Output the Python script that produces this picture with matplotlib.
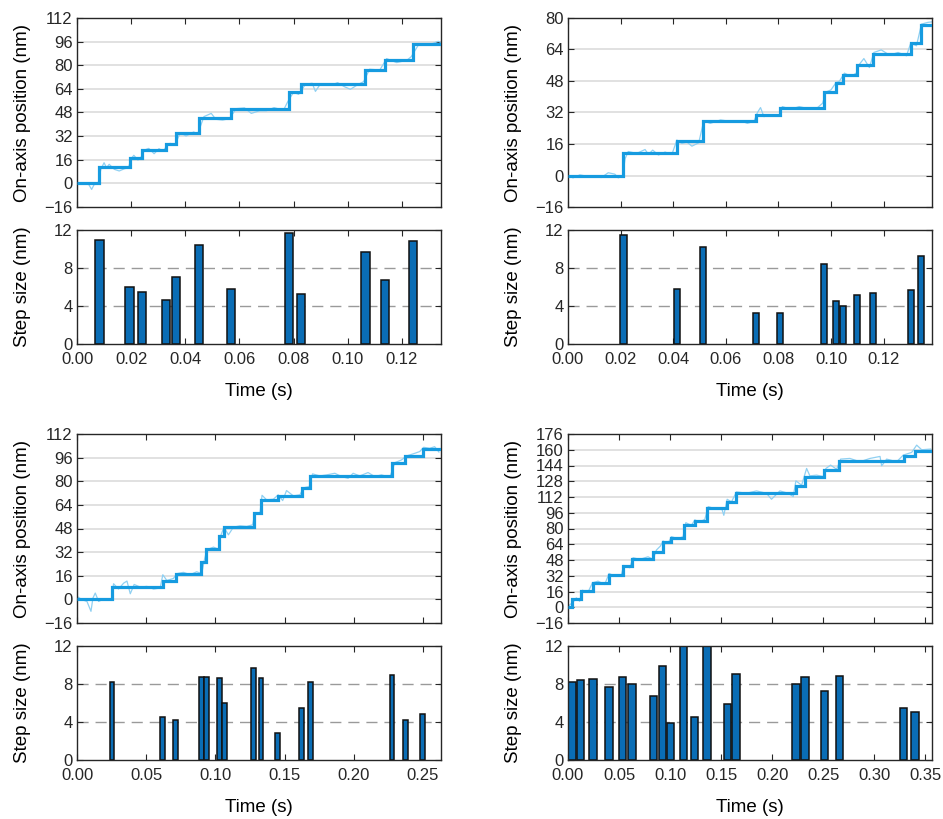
import numpy as np
import matplotlib.pyplot as plt

plt.rcParams['font.family'] = ['Liberation Sans', 'DejaVu Sans']
plt.rcParams['font.size'] = 12

# ---- data: step times (s) and step sizes (nm) ----
p1_t = [0.0083, 0.0194, 0.0239, 0.0330, 0.0366, 0.0450, 0.0570, 0.0783,
        0.0828, 0.1066, 0.1139, 0.1241]
p1_s = [10.9, 6.0, 5.45, 4.6, 7.1, 10.4, 5.8, 11.65, 5.25, 9.7, 6.7, 10.8]

p2_t = [0.0211, 0.0413, 0.0513, 0.0716, 0.0806, 0.0975, 0.1020, 0.1047,
        0.1100, 0.1158, 0.1304, 0.1341]
p2_s = [11.5, 5.8, 10.2, 3.25, 3.3, 8.4, 4.55, 4.0, 5.15, 5.35, 5.7, 9.25]

p3_t = [0.0252, 0.0618, 0.0712, 0.0899, 0.0935, 0.1029, 0.1065, 0.1276,
        0.1329, 0.1450, 0.1623, 0.1685, 0.2276, 0.2373, 0.2498]
p3_s = [8.2, 4.5, 4.2, 8.7, 8.7, 8.6, 6.0, 9.65, 8.6, 2.85, 5.5, 8.2, 8.9,
        4.2, 4.8]

p4_t = [0.0039, 0.0124, 0.0245, 0.0400, 0.0536, 0.0627, 0.0837, 0.0928,
        0.1007, 0.1134, 0.1239, 0.1360, 0.1559, 0.1644, 0.2232, 0.2320,
        0.2510, 0.2657, 0.3288, 0.3400]
p4_s = [8.2, 8.4, 8.5, 7.7, 8.7, 8.0, 6.7, 9.9, 3.9, 13.5, 4.5, 12.6, 5.9,
        9.1, 8.0, 8.7, 7.3, 8.8, 5.45, 5.05]

# ---- raw on-axis position traces (s, nm) ----
p1_raw_t = [0.0000, 0.0025, 0.0044, 0.0054, 0.0063, 0.0078, 0.0088, 0.0100,
            0.0109, 0.0119, 0.0138, 0.0156, 0.0175, 0.0190, 0.0200, 0.0210,
            0.0225, 0.0235, 0.0250, 0.0265, 0.0285, 0.0303, 0.0319, 0.0329,
            0.0344, 0.0363, 0.0381, 0.0403, 0.0431, 0.0446, 0.0469, 0.0496,
            0.0513, 0.0538, 0.0563, 0.0588, 0.0619, 0.0644, 0.0675, 0.0700,
            0.0728, 0.0763, 0.0778, 0.0800, 0.0819, 0.0844, 0.0869, 0.0881,
            0.0900, 0.0938, 0.0963, 0.0988, 0.1010, 0.1038, 0.1059, 0.1081,
            0.1119, 0.1144, 0.1181, 0.1219, 0.1235, 0.1263, 0.1300, 0.1335,
            0.1363]
p1_raw_y = [0.5, 0.2, -0.9, -4.1, -0.9, -0.2, 9.5, 14.0, 10.6, 12.9, 9.5,
            8.4, 9.9, 10.6, 16.7, 19.0, 15.8, 17.2, 22.6, 23.7, 20.1, 23.5,
            21.7, 24.8, 27.1, 26.2, 34.3, 32.1, 34.8, 33.4, 45.2, 47.4, 43.4,
            42.9, 43.8, 50.6, 51.1, 47.4, 49.2, 49.2, 51.3, 49.5, 55.1, 61.7,
            60.3, 67.1, 67.8, 62.3, 67.5, 66.4, 68.2, 65.5, 63.7, 66.9, 68.9,
            77.3, 76.8, 84.5, 81.8, 83.4, 85.8, 94.2, 93.7, 96.2, 94.0]

p2_raw_t = [0.0000, 0.0019, 0.0045, 0.0070, 0.0096, 0.0127, 0.0153, 0.0178,
            0.0191, 0.0208, 0.0217, 0.0229, 0.0261, 0.0293, 0.0306, 0.0322,
            0.0344, 0.0369, 0.0395, 0.0414, 0.0433, 0.0452, 0.0471, 0.0497,
            0.0516, 0.0541, 0.0580, 0.0618, 0.0656, 0.0682, 0.0707, 0.0720,
            0.0732, 0.0745, 0.0771, 0.0803, 0.0815, 0.0847, 0.0879, 0.0911,
            0.0949, 0.0968, 0.0981, 0.1000, 0.1019, 0.1032, 0.1051, 0.1076,
            0.1096, 0.1108, 0.1125, 0.1146, 0.1163, 0.1191, 0.1223, 0.1255,
            0.1287, 0.1303, 0.1325, 0.1344, 0.1369, 0.1389]
p2_raw_y = [0.0, -1.2, 0.3, -0.3, -0.7, -1.0, 1.4, 0.7, -1.2, 0.0, 8.5, 12.2,
            11.2, 13.2, 10.7, 12.9, 10.4, 11.9, 10.7, 18.0, 16.3, 17.0, 14.9,
            16.6, 27.7, 26.5, 28.2, 27.5, 27.8, 26.5, 27.5, 31.9, 34.5, 29.9,
            30.9, 30.2, 35.0, 33.6, 35.0, 34.0, 34.5, 36.7, 42.4, 43.5, 47.2,
            47.9, 52.0, 50.3, 52.0, 56.5, 59.4, 54.8, 62.5, 63.8, 61.1, 62.5,
            60.8, 67.2, 65.9, 76.9, 77.8, 78.1]

p3_raw_t = [0.0000, 0.0036, 0.0072, 0.0101, 0.0115, 0.0132, 0.0156, 0.0192,
            0.0228, 0.0252, 0.0264, 0.0300, 0.0337, 0.0361, 0.0385, 0.0413,
            0.0457, 0.0505, 0.0553, 0.0601, 0.0620, 0.0649, 0.0697, 0.0721,
            0.0769, 0.0817, 0.0865, 0.0901, 0.0918, 0.0938, 0.0986, 0.1022,
            0.1038, 0.1062, 0.1094, 0.1130, 0.1178, 0.1226, 0.1269, 0.1286,
            0.1322, 0.1337, 0.1370, 0.1418, 0.1454, 0.1486, 0.1514, 0.1563,
            0.1611, 0.1635, 0.1678, 0.1702, 0.1755, 0.1803, 0.1863, 0.1911,
            0.1959, 0.1995, 0.2043, 0.2103, 0.2151, 0.2200, 0.2260, 0.2279,
            0.2296, 0.2344, 0.2380, 0.2440, 0.2476, 0.2505, 0.2548, 0.2584,
            0.2615]
p3_raw_y = [2.0, -0.2, -1.4, -8.1, 0.9, 4.3, -1.4, 0.2, -0.7, 0.2, 10.6, 7.0,
            11.0, 12.4, 3.8, 10.1, 8.3, 8.8, 7.0, 7.7, 16.7, 12.8, 14.2, 17.4,
            18.3, 16.7, 18.7, 17.4, 25.7, 33.6, 35.4, 34.0, 43.0, 48.9, 43.7,
            48.9, 49.8, 49.4, 50.5, 58.8, 58.4, 70.5, 67.4, 67.8, 70.8, 66.9,
            73.7, 70.1, 70.8, 75.5, 76.4, 85.0, 83.6, 84.3, 85.4, 83.2, 82.0,
            85.4, 83.6, 85.9, 83.2, 84.3, 82.7, 87.7, 92.6, 94.4, 97.1, 98.9,
            100.1, 103.0, 102.3, 103.4, 99.8]

p4_raw_t = [0.0000, 0.0049, 0.0082, 0.0114, 0.0141, 0.0196, 0.0239, 0.0294,
            0.0359, 0.0402, 0.0458, 0.0523, 0.0546, 0.0605, 0.0637, 0.0703,
            0.0784, 0.0833, 0.0866, 0.0905, 0.0931, 0.0980, 0.1013, 0.1078,
            0.1127, 0.1154, 0.1209, 0.1242, 0.1291, 0.1340, 0.1373, 0.1438,
            0.1503, 0.1526, 0.1559, 0.1601, 0.1650, 0.1748, 0.1846, 0.1944,
            0.1993, 0.2075, 0.2157, 0.2206, 0.2232, 0.2288, 0.2337, 0.2369,
            0.2435, 0.2500, 0.2526, 0.2572, 0.2631, 0.2670, 0.2761, 0.2859,
            0.2958, 0.3056, 0.3072, 0.3121, 0.3219, 0.3284, 0.3366, 0.3415,
            0.3464, 0.3552]
p4_raw_y = [1.0, 5.1, 9.5, 6.1, 17.3, 15.3, 24.8, 26.5, 23.1, 34.3, 31.6,
            33.3, 42.5, 40.1, 50.3, 48.6, 51.3, 48.6, 58.1, 62.2, 67.3, 64.9,
            71.7, 69.6, 71.7, 85.9, 83.2, 88.7, 86.6, 89.3, 102.2, 100.2,
            101.2, 93.4, 109.7, 107.0, 117.2, 115.8, 118.2, 115.8, 109.7,
            118.2, 115.8, 112.4, 128.4, 124.0, 141.0, 133.5, 134.2, 132.8,
            141.0, 144.4, 140.2, 150.5, 151.2, 147.8, 151.2, 153.2, 143.7,
            150.5, 147.8, 154.6, 157.3, 164.7, 160.0, 160.7]

panels = [
    dict(t=p1_t, s=p1_s, rt=p1_raw_t, ry=p1_raw_y, xmax=0.1345,
         xticks=np.arange(0, 0.121, 0.02), yticks=np.arange(-16, 113, 16),
         w=0.003, left=77, top=18),
    dict(t=p2_t, s=p2_s, rt=p2_raw_t, ry=p2_raw_y, xmax=0.1384,
         xticks=np.arange(0, 0.121, 0.02), yticks=np.arange(-16, 81, 16),
         w=0.0023, left=568, top=18),
    dict(t=p3_t, s=p3_s, rt=p3_raw_t, ry=p3_raw_y, xmax=0.263,
         xticks=np.arange(0, 0.251, 0.05), yticks=np.arange(-16, 113, 16),
         w=0.0034, left=77, top=434),
    dict(t=p4_t, s=p4_s, rt=p4_raw_t, ry=p4_raw_y, xmax=0.3565,
         xticks=np.arange(0, 0.351, 0.05), yticks=np.arange(-16, 177, 16),
         w=0.0072, left=568, top=434),
]

W, H = 943, 819
fig = plt.figure(figsize=(W / 100, H / 100), dpi=100)

FRAME = '#262626'
STEP_C = '#169be0'
RAW_C = '#8fd0f2'
BAR_C = '#0a6db5'


def style(ax, xmax, xticks, yticks):
    ax.set_xlim(0, xmax)
    ax.set_xticks(xticks)
    ax.set_yticks(yticks)
    ax.set_ylim(yticks[0], yticks[-1])
    ax.tick_params(direction='in', top=True, right=True, length=4,
                   width=0.8, color=FRAME, labelcolor='#262626', pad=3,
                   labelsize=12)
    ax.tick_params(axis='x', pad=6)
    for sp in ax.spines.values():
        sp.set_color(FRAME)
        sp.set_linewidth(1.0)


for p in panels:
    x0 = p['left'] / W
    wdt = 364 / W
    # position trace
    ax = fig.add_axes([x0, 1 - (p['top'] + 189) / H, wdt, 189 / H])
    style(ax, p['xmax'], p['xticks'], p['yticks'])
    ax.set_xticklabels([])
    for y in p['yticks'][1:-1]:
        ax.axhline(y, color='#dedede', lw=1.3, zorder=0)
    ax.plot(p['rt'], p['ry'], color=RAW_C, lw=0.9, zorder=2)
    levels = np.concatenate([[0.0], np.cumsum(p['s'])])
    edges = np.concatenate([[0.0], p['t'], [p['xmax']]])
    ax.stairs(levels, edges, baseline=None, color=STEP_C, lw=2.3, zorder=3)
    ax.set_ylabel('On-axis position (nm)', fontsize=13.5)
    ax.yaxis.set_label_coords(-0.125, 0.5)

    # step sizes
    bx = fig.add_axes([x0, 1 - (p['top'] + 212 + 114) / H, wdt, 114 / H])
    style(bx, p['xmax'], p['xticks'], [0, 4, 8, 12])
    bx.set_xticklabels([f'{v:.2f}' for v in p['xticks']])
    for y in (4, 8):
        bx.axhline(y, color='#9a9a9a', lw=1.0, ls=(0, (8, 5)), zorder=0)
    bx.bar(p['t'], p['s'], width=p['w'], color=BAR_C, edgecolor='#111111',
           linewidth=1.1, zorder=2)
    bx.set_ylabel('Step size (nm)', fontsize=13.5)
    bx.yaxis.set_label_coords(-0.125, 0.5)
    bx.set_xlabel('Time (s)', fontsize=13.5)
    bx.xaxis.set_label_coords(0.5, -0.34)

fig.savefig('out.png', dpi=100)
